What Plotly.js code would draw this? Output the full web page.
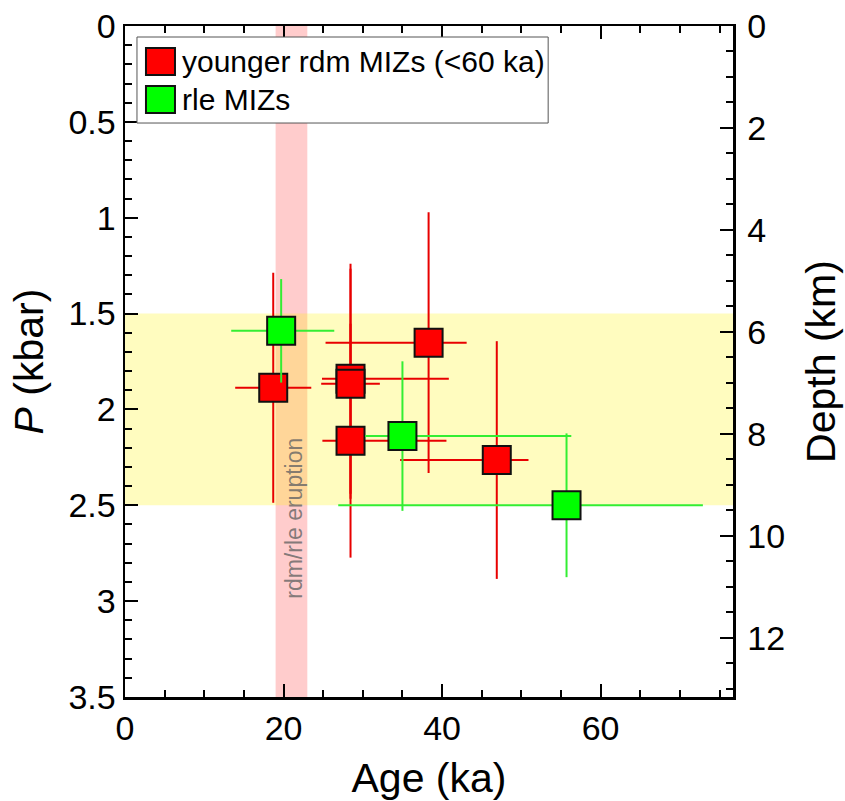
<!DOCTYPE html>
<html>
<head>
<meta charset="utf-8">
<script src="https://cdn.plot.ly/plotly-3.0.1.min.js"></script>
<style>html,body{margin:0;padding:0;background:#fff;}#chart{width:845px;height:801px;}</style>
</head>
<body>
<div id="chart"></div>
<script>
// ---- data ----
const redName = "younger rdm MIZs (<60 ka)";
const redAge = [18.7, 28.45, 28.45, 28.45, 38.3, 46.9];
const redP = [1.887, 1.84, 1.866, 2.163, 1.652, 2.264];
const redAgePlus = [4.8, 12.4, 3.7, 12.1, 4.8, 4.0];
const redAgeMinus = [4.8, 3.6, 3.7, 3.55, 13.0, 12.2];
const redPErr = [0.6, 0.6, 0.6, 0.61, 0.68, 0.62];

const greenName = "rle MIZs";
const greenAge = [19.7, 35.0, 55.7];
const greenP = [1.59, 2.139, 2.50];
const greenAgePlus = [6.7, 21.3, 17.2];
const greenAgeMinus = [6.3, 4.7, 28.8];
const greenPErr = [0.27, 0.39, 0.375];

const eruptionAge = [19, 23];       // ka
const pressureBand = [1.5, 2.5];    // kbar
const eruptionLabel = "rdm/rle eruption";
const kmPerKbar = 3.76;
const pRange = [3.5, 0];

const FONT = "Liberation Sans, Arial, Helvetica, sans-serif";

const red = {
  x: redAge, y: redP, type: 'scatter', mode: 'markers', name: redName,
  marker: {symbol: 'square', size: 28, color: '#ff0000', line: {color: '#111', width: 2}},
  error_x: {type: 'data', symmetric: false, array: redAgePlus, arrayminus: redAgeMinus, color: '#e80000', thickness: 2, width: 0},
  error_y: {type: 'data', array: redPErr, color: '#e80000', thickness: 2, width: 0},
  showlegend: false, hoverinfo: 'x+y'
};
const green = {
  x: greenAge, y: greenP, type: 'scatter', mode: 'markers', name: greenName,
  marker: {symbol: 'square', size: 28, color: '#00ff00', line: {color: '#111', width: 2}},
  error_x: {type: 'data', symmetric: false, array: greenAgePlus, arrayminus: greenAgeMinus, color: '#33ee33', thickness: 2, width: 0},
  error_y: {type: 'data', array: greenPErr, color: '#33ee33', thickness: 2, width: 0},
  showlegend: false, hoverinfo: 'x+y'
};
const depthDummy = {x: [], y: [], yaxis: 'y2', type: 'scatter', mode: 'markers', showlegend: false, hoverinfo: 'skip'};

// custom legend geometry (paper coords)
const lg = {x0: 0.0197, x1: 0.696, y0: 0.8554, y1: 0.9836};
const sw = {x0: 0.0345, x1: 0.0822};
const rows = [{y0: 0.927, y1: 0.9672, c: '#ff0000', t: redName, ty: 0.947},
              {y0: 0.8703, y1: 0.9106, c: '#00ff00', t: greenName, ty: 0.8905}];

const shapes = [
  {type: 'rect', xref: 'x', yref: 'paper', x0: eruptionAge[0], x1: eruptionAge[1], y0: 0, y1: 1,
   fillcolor: 'rgba(255,0,0,0.2)', line: {width: 0}, layer: 'below'},
  {type: 'rect', xref: 'paper', yref: 'y', x0: 0, x1: 1, y0: pressureBand[0], y1: pressureBand[1],
   fillcolor: 'rgba(255,245,0,0.25)', line: {width: 0}, layer: 'below'},
  {type: 'rect', xref: 'paper', yref: 'paper', x0: lg.x0, x1: lg.x1, y0: lg.y0, y1: lg.y1,
   fillcolor: '#fff', line: {color: '#555', width: 1}}
];
const annotations = [
  {x: (eruptionAge[0] + eruptionAge[1]) / 2 + 0.3, y: 2.566, xref: 'x', yref: 'y', text: eruptionLabel,
   textangle: -90, showarrow: false, font: {family: FONT, size: 23, color: 'rgba(100,100,100,0.8)'}}
];
rows.forEach(r => {
  shapes.push({type: 'rect', xref: 'paper', yref: 'paper', x0: sw.x0, x1: sw.x1, y0: r.y0, y1: r.y1,
               fillcolor: r.c, line: {color: '#111', width: 2}});
  annotations.push({xref: 'paper', yref: 'paper', x: 0.0905, y: r.ty, xanchor: 'left', yanchor: 'middle',
                    text: r.t, showarrow: false, font: {family: FONT, size: 30, color: '#000'}});
});

const axisCommon = {
  showgrid: false, zeroline: false, showline: true, linecolor: '#000', linewidth: 2.5,
  ticks: 'inside', tickcolor: '#000', tickwidth: 2, ticklen: 13,
  tickfont: {family: FONT, size: 34, color: '#000'}
};

const layout = {
  width: 845, height: 801,
  margin: {l: 125, r: 112, t: 26, b: 104},
  paper_bgcolor: '#fff', plot_bgcolor: 'rgba(0,0,0,0)',
  font: {family: FONT, color: '#000'},
  xaxis: Object.assign({}, axisCommon, {
    range: [0, 76.7], dtick: 20, tick0: 0, mirror: 'ticks',
    minor: {dtick: 5, ticks: 'inside', ticklen: 7, tickwidth: 2, tickcolor: '#000'},
    title: {text: 'Age (ka)', font: {family: FONT, size: 41, color: '#000'}, standoff: 18}
  }),
  yaxis: Object.assign({}, axisCommon, {
    range: pRange, dtick: 0.5, tick0: 0,
    minor: {dtick: 0.1, ticks: 'inside', ticklen: 7, tickwidth: 2, tickcolor: '#000'},
    title: {text: '<i>P</i> (kbar)', font: {family: FONT, size: 41, color: '#000'}, standoff: 12}
  }),
  yaxis2: Object.assign({}, axisCommon, {
    overlaying: 'y', side: 'right', anchor: 'x',
    range: [pRange[0] * kmPerKbar, pRange[1] * kmPerKbar], dtick: 2, tick0: 0,
    ticklabelstandoff: 5,
    minor: {dtick: 0.5, ticks: 'inside', ticklen: 7, tickwidth: 2, tickcolor: '#000'},
    title: {text: 'Depth (km)', font: {family: FONT, size: 41, color: '#000'}, standoff: 22}
  }),
  shapes: shapes,
  annotations: annotations,
  showlegend: false
};

Plotly.newPlot('chart', [red, green, depthDummy], layout, {displayModeBar: false, staticPlot: true});
</script>
</body>
</html>
